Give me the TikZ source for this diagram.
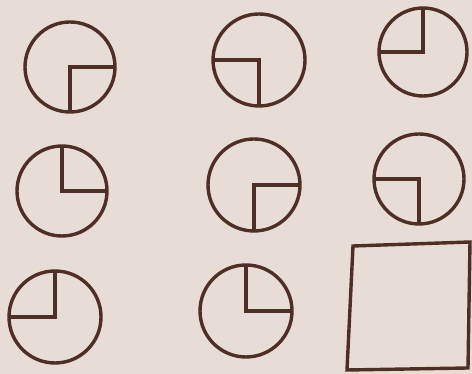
\documentclass[tikz,border=0pt]{standalone}
\begin{document}
\begin{tikzpicture}[x=1pt,y=1pt,
  ink/.style={draw=inkc,line width=3.4pt,line join=miter}]
\definecolor{bgc}{HTML}{E7DDD6}
\definecolor{inkc}{HTML}{4E2E26}
\fill[bgc] (0,0) rectangle (472,374);
\useasboundingbox (0,0) rectangle (472,374);
% circle with two radii: name, center, radius, angle1, angle2
\newcommand\qcirc[5]{%
  \coordinate (#1) at #2;
  \draw[ink] (#1) circle (#3);
  \draw[ink] (#1) ++(#4:#3) -- (#1) -- ++(#5:#3);
}
\qcirc{c1}{(70,307)}{45}{0}{270}
\qcirc{c2}{(259,314)}{46}{180}{270}
\qcirc{c3}{(423,322)}{44}{90}{180}
\qcirc{c4}{(62,183)}{45}{90}{0}
\qcirc{c5}{(254,189)}{46}{270}{0}
\qcirc{c6}{(419,195)}{45}{180}{270}
\qcirc{c7}{(55,57)}{46}{90}{180}
\qcirc{c8}{(246,63)}{46}{90}{0}
\coordinate (s1) at (353,128);
\coordinate (s2) at (470,132);
\coordinate (s3) at (468,6);
\coordinate (s4) at (347,4);
\draw[ink] (s1) -- (s2) -- (s3) -- (s4) -- cycle;
\end{tikzpicture}
\end{document}
